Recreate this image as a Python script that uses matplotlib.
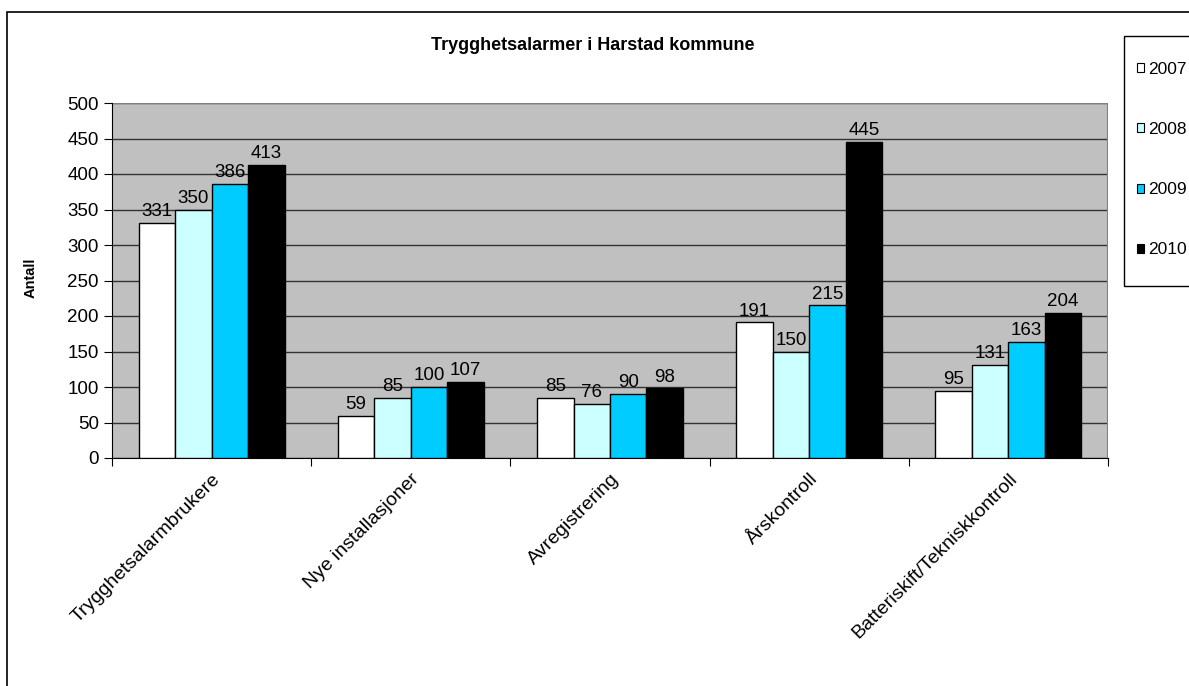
import matplotlib
matplotlib.use("Agg")
import matplotlib.pyplot as plt
from matplotlib.patches import Rectangle
import numpy as np

plt.rcParams['font.family'] = ['Liberation Sans', 'DejaVu Sans']

categories = ["Trygghetsalarmbrukere", "Nye installasjoner", "Avregistrering",
              "Årskontroll", "Batteriskift/Tekniskkontroll"]
years = ["2007", "2008", "2009", "2010"]
v2007 = [331, 59, 85, 191, 95]
v2008 = [350, 85, 76, 150, 131]
v2009 = [386, 100, 90, 215, 163]
v2010 = [413, 107, 98, 445, 204]
series = [v2007, v2008, v2009, v2010]
colors = ["#FFFFFF", "#CCFFFF", "#00CCFF", "#000000"]

W, H = 1189, 686
fig = plt.figure(figsize=(W / 100, H / 100), dpi=100)
ax = fig.add_axes([112/W, 1-458/H, (1108-112)/W, (458-103)/H])
ax.set_facecolor("#C0C0C0")

x = np.arange(len(categories))
w = 0.183
for i, (vals, c) in enumerate(zip(series, colors)):
    pos = x + (i - 1.5) * w
    ax.bar(pos, vals, width=w, color=c, edgecolor="black", linewidth=1,
           label=years[i], zorder=3)
    for p, v in zip(pos, vals):
        ax.text(p, v + 4, str(v), ha="center", va="bottom", fontsize=13.5, zorder=4)

ax.set_xlim(-0.5, len(categories) - 0.5)
ax.set_ylim(0, 500)
ax.set_yticks(range(0, 501, 50))
ax.yaxis.grid(True, color="#333333", linewidth=1, zorder=1)
ax.set_axisbelow(True)
ax.set_xticks(np.arange(-0.5, len(categories), 1.0), minor=False)
ax.set_xticklabels([""] * (len(categories) + 1))
ax.set_xticks(x, minor=True)
ax.set_xticklabels(categories, minor=True, rotation=45, ha="right", rotation_mode="anchor",
                   fontsize=14)
ax.tick_params(axis="x", which="minor", length=0, pad=9)
ax.tick_params(axis="x", which="major", length=6, direction="out")
ax.tick_params(axis="y", labelsize=13.5, length=6)
for s in ["top", "right"]:
    ax.spines[s].set_visible(False)
ax.spines["left"].set_color("black")
ax.spines["bottom"].set_color("black")
ax.axhline(500, color="#808080", linewidth=1.5, zorder=2)
ax.axvline(len(categories) - 0.5, color="#808080", linewidth=1.5, zorder=2)

fig.text(31/W, 1-278/H, "Antall", rotation=90, ha="center", va="center",
         fontsize=10.5, fontweight="bold")
fig.text(593/W, 1-45/H, "Trygghetsalarmer i Harstad kommune", ha="center", va="center",
         fontsize=13, fontweight="bold")

# outer chart border
fig.patches.append(Rectangle((7/W, -0.05), 1.1, 1-12/H + 0.05, transform=fig.transFigure,
                             fill=False, edgecolor="black", linewidth=1.2))
# legend border
fig.patches.append(Rectangle((1124/W, 1-286/H), 0.2, (286-36)/H, transform=fig.transFigure,
                             fill=False, edgecolor="black", linewidth=1))

leg = fig.legend(loc="upper left", bbox_to_anchor=(1137/W, 1-62/H), fontsize=12.5,
                 frameon=False, handlelength=0.42, handleheight=0.42, handletextpad=0.2,
                 labelspacing=2.6, borderpad=0, borderaxespad=0)
for h in leg.legend_handles:
    h.set_edgecolor("black")
    h.set_linewidth(0.8)

fig.savefig("out.png", dpi=100)
